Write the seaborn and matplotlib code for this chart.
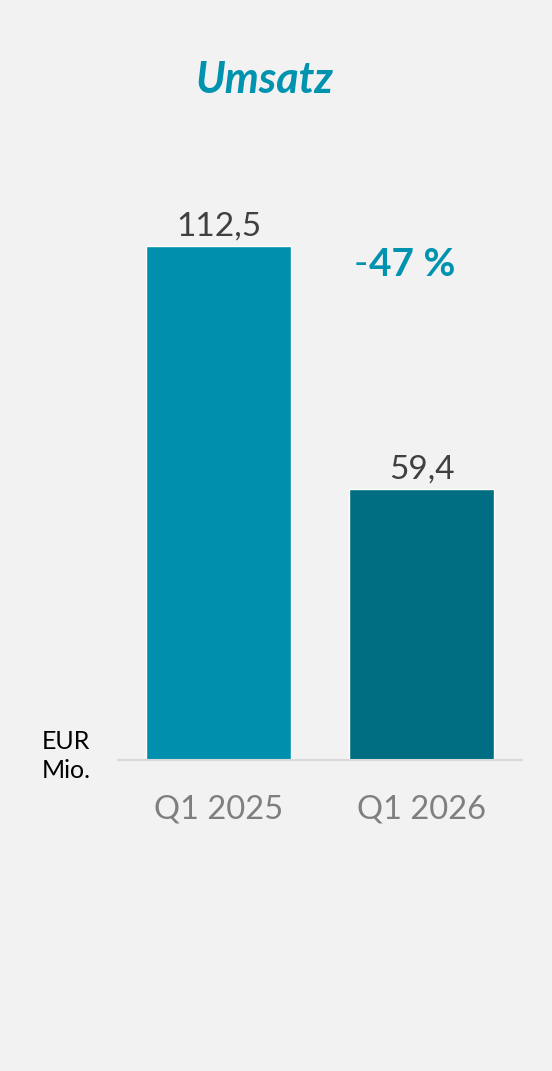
import numpy as np
import pandas as pd
import matplotlib
matplotlib.use("Agg")
import matplotlib.pyplot as plt
import seaborn as sns

# ---- data ----
quarters = ["Q1 2025", "Q1 2026"]
umsatz = [112.5, 59.4]
value_labels = ["112,5", "59,4"]
bar_colors = ["#0090AE", "#006E82"]
change_sign = "-"
change_value = "47 %"

BG = "#F2F2F2"
TEAL = "#0093AF"

sns.set_theme(style="white")
plt.rcParams["font.family"] = ["Lato", "DejaVu Sans"]

df = pd.DataFrame({"quarter": quarters, "umsatz": umsatz})

fig = plt.figure(figsize=(5.52, 10.71), dpi=100, facecolor=BG)
# axes in pixel coords: left 118, right 522, bottom 760, top 180
W, H = 552, 1071
ax = fig.add_axes([118 / W, 1 - 760 / H, 404 / W, 580 / H])
ax.set_facecolor(BG)

sns.barplot(data=df, x="quarter", y="umsatz", hue="quarter",
            palette=bar_colors, width=0.714, legend=False, ax=ax,
            saturation=1)

ax.set_xlim(-0.495, 1.495)
ax.set_ylim(0, 127)
for s in ["top", "right", "left"]:
    ax.spines[s].set_visible(False)
ax.spines["bottom"].set_color("#D9D9D9")
ax.spines["bottom"].set_linewidth(1.5)
ax.set_yticks([])
ax.set_xlabel("")
ax.set_ylabel("")
ax.tick_params(axis="x", length=0, pad=25, labelsize=23.5, labelcolor="#7F7F7F")

for i, (v, lab) in enumerate(zip(umsatz, value_labels)):
    ax.text(i, v + 1.0, lab, ha="center", va="bottom", fontsize=24, color="#404040")

# change label: thin sign, bold number
ax.text(0.735, 108.5, change_sign, ha="right", va="center", fontsize=28,
        color=TEAL)
ax.text(0.74, 108.5, change_value, ha="left", va="center", fontsize=28,
        fontweight="bold", color=TEAL)

fig.text(265 / W, 1 - 80 / H, "Umsatz", ha="center", va="center", fontsize=31,
         fontweight="bold", fontstyle="italic", color=TEAL)
fig.text(42 / W, 1 - 756 / H, "EUR\nMio.", ha="left", va="center", fontsize=18,
         color="#000000", linespacing=1.3)

fig.savefig("out.png", dpi=100, facecolor=BG)
